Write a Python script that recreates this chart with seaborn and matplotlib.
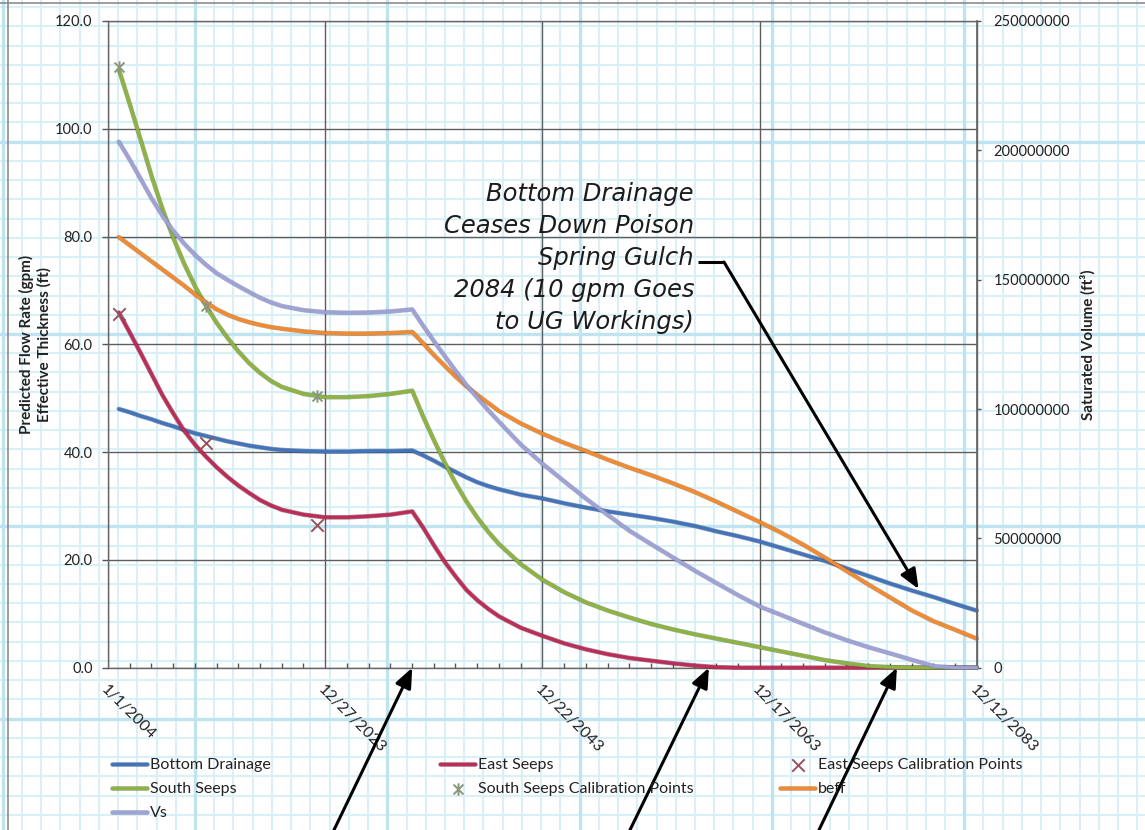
import numpy as np
import pandas as pd
import matplotlib
matplotlib.use("Agg")
import matplotlib.pyplot as plt
import matplotlib.dates as mdates
import matplotlib.patheffects as pe
from matplotlib.lines import Line2D
from matplotlib.path import Path
from matplotlib.ticker import FixedLocator, FuncFormatter
import seaborn as sns

# ---------------------------------------------------------------- data
SAMPLE_YEARS = [2005, 2006, 2007, 2008, 2009, 2010, 2011, 2012, 2013, 2014,
                2015, 2016, 2017, 2018, 2019, 2020, 2022, 2024, 2026, 2028,
                2030, 2032, 2033, 2034, 2035, 2036, 2037, 2038, 2039, 2040,
                2042, 2044, 2046, 2048, 2050, 2052, 2054, 2056, 2058, 2060,
                2062, 2064, 2066, 2068, 2070, 2072, 2074, 2076, 2078, 2080,
                2082, 2083.94]

BOTTOM_DRAINAGE = [48.0, 47.4, 46.7, 46.1, 45.4, 44.8, 44.1, 43.5, 43.0, 42.5,
                   42.0, 41.6, 41.2, 40.9, 40.6, 40.4, 40.2, 40.1, 40.1, 40.2,
                   40.2, 40.3, 39.4, 38.4, 37.3, 36.3, 35.3, 34.4, 33.7, 33.1,
                   32.1, 31.4, 30.5, 29.7, 29.0, 28.4, 27.8, 27.1, 26.3, 25.3,
                   24.4, 23.4, 22.2, 21.0, 19.8, 18.4, 17.0, 15.6, 14.3, 13.1,
                   11.8, 10.6]

EAST_SEEPS = [65.9, 62.2, 58.4, 54.5, 50.6, 47.2, 44.0, 41.4, 39.2, 37.2,
              35.4, 33.8, 32.4, 31.1, 30.1, 29.3, 28.4, 27.9, 27.9, 28.1,
              28.4, 29.0, 26.0, 22.7, 19.6, 16.9, 14.4, 12.5, 10.9, 9.5,
              7.4, 5.9, 4.5, 3.4, 2.5, 1.8, 1.3, 0.8, 0.4, 0.1,
              0.0, 0.0, 0.0, 0.0, 0.0, 0.0, 0.0, 0.0, 0.0, 0.0,
              0.0, 0.0]

SOUTH_SEEPS = [111.0, 104.6, 98.0, 91.3, 85.2, 79.8, 75.0, 70.8, 67.2, 64.0,
               61.2, 58.7, 56.5, 54.7, 53.2, 52.1, 50.8, 50.2, 50.2, 50.4,
               50.8, 51.4, 46.6, 42.2, 38.0, 34.2, 30.8, 27.8, 25.2, 22.9,
               19.2, 16.3, 14.0, 12.1, 10.6, 9.3, 8.1, 7.1, 6.2, 5.4,
               4.6, 3.8, 3.0, 2.2, 1.4, 0.8, 0.3, 0.1, 0.0, 0.0,
               0.0, 0.0]

BEFF = [79.9, 78.4, 76.9, 75.4, 73.9, 72.4, 70.9, 69.3, 67.8, 66.5,
        65.5, 64.7, 64.1, 63.6, 63.2, 62.9, 62.4, 62.1, 62.0, 62.0,
        62.1, 62.3, 60.2, 58.0, 56.0, 54.0, 52.2, 50.6, 49.1, 47.6,
        45.3, 43.4, 41.7, 40.2, 38.6, 37.1, 35.7, 34.2, 32.6, 30.8,
        28.9, 27.0, 25.0, 22.8, 20.4, 17.9, 15.4, 13.0, 10.6, 8.6,
        7.0, 5.4]

VS = [2.033e8, 1.964e8, 1.890e8, 1.815e8, 1.748e8, 1.689e8, 1.640e8, 1.596e8, 1.558e8, 1.525e8,
      1.499e8, 1.475e8, 1.452e8, 1.430e8, 1.412e8, 1.398e8, 1.382e8, 1.374e8, 1.372e8, 1.373e8,
      1.377e8, 1.385e8, 1.322e8, 1.262e8, 1.204e8, 1.147e8, 1.092e8, 1.043e8, 0.995e8, 0.950e8,
      0.862e8, 0.788e8, 0.720e8, 0.653e8, 0.590e8, 0.529e8, 0.477e8, 0.426e8, 0.375e8, 0.327e8,
      0.280e8, 0.236e8, 0.203e8, 0.169e8, 0.136e8, 0.106e8, 0.079e8, 0.055e8, 0.030e8, 0.006e8,
      0.0, 0.0]

CAL_YEARS = [2005.0, 2013.0, 2023.2]
EAST_CAL = [65.6, 41.7, 26.5]
SOUTH_CAL = [111.5, 67.2, 50.5]

X_TICK_LABELS = ["1/1/2004", "12/27/2023", "12/22/2043", "12/17/2063", "12/12/2083"]
LEFT_TICKS = [0, 20, 40, 60, 80, 100, 120]
RIGHT_TICKS = [0, 50000000, 100000000, 150000000, 200000000, 250000000]

NOTE = "Bottom Drainage\nCeases Down Poison\nSpring Gulch\n2084 (10 gpm Goes\nto UG Workings)"

# ---------------------------------------------------------------- helpers
W, H, DPI = 1145, 830, 100
ORIGIN = pd.Timestamp("2004-01-01")


def year_to_date(y):
    return ORIGIN + pd.to_timedelta((y - 2004) * 365.25, unit="D")


def fpx(x, y):
    """figure-fraction coordinates from pixel position (top-left origin)"""
    return x / W, 1 - y / H


sns.set_theme(style="white")
plt.rcParams["font.family"] = ["Lato", "DejaVu Sans"]

fig = plt.figure(figsize=(W / DPI, H / DPI), dpi=DPI, facecolor="white")

# ---------------------------------------------------------------- graph paper backdrop
bg = fig.add_axes([0, 0, 1, 1], zorder=-10)
bg.set_xlim(0, W)
bg.set_ylim(H, 0)
bg.axis("off")
cell = 19.23
for k in range(-12, 60):
    heavy = (k % 10 == 0)
    col = "#bfe4f0" if heavy else "#daf0f7"
    lw = 2.4 if heavy else 1.5
    x = 195 + k * cell
    if -5 <= x <= W + 5:
        bg.axvline(x, color=col, lw=lw, zorder=1 if heavy else 0)
    y = 141.7 + k * cell
    if -5 <= y <= H + 5:
        bg.axhline(y, color=col, lw=lw, zorder=1 if heavy else 0)
bg.axvline(8, color="#8c8c8c", lw=1.2, zorder=2)
bg.axhline(3, color="#8c8c8c", lw=1.2, zorder=2)

# ---------------------------------------------------------------- chart axes
L, R, T, B = 108, 976.7, 21, 667.7
ax = fig.add_axes([L / W, 1 - B / H, (R - L) / W, (B - T) / H])
ax.patch.set_alpha(0)
ax2 = ax.twinx()
ax2.patch.set_alpha(0)

df = pd.DataFrame({
    "date": [year_to_date(y) for y in SAMPLE_YEARS],
    "Bottom Drainage": BOTTOM_DRAINAGE,
    "East Seeps": EAST_SEEPS,
    "South Seeps": SOUTH_SEEPS,
    "beff": BEFF,
    "Vs": VS,
})
cal = pd.DataFrame({
    "date": [year_to_date(y) for y in CAL_YEARS],
    "East Seeps Calibration Points": EAST_CAL,
    "South Seeps Calibration Points": SOUTH_CAL,
})

COLORS = {
    "Bottom Drainage": ("#4373B9", "#27467a"),
    "East Seeps": ("#BC2C56", "#6e1430"),
    "South Seeps": ("#8DB443", "#4f6a1f"),
    "beff": ("#F28B30", "#9a4f12"),
    "Vs": ("#9FA2D5", "#676a98"),
}
LW = 2.3


def draw_series(axis, name):
    main, dark = COLORS[name]
    sns.lineplot(data=df, x="date", y=name, ax=axis, color=main, linewidth=LW,
                 label=name, legend=False, clip_on=False, zorder=3,
                 solid_joinstyle="round",
                 path_effects=[pe.Stroke(linewidth=LW + 1.0, foreground=dark, alpha=0.55),
                               pe.Normal()])


for name in ["Bottom Drainage", "East Seeps", "South Seeps", "beff"]:
    draw_series(ax, name)
draw_series(ax2, "Vs")

# calibration markers
star = Path([(-1, -1), (1, 1), (-1, 1), (1, -1), (0, -1.25), (0, 1.25)],
            [Path.MOVETO, Path.LINETO, Path.MOVETO, Path.LINETO, Path.MOVETO, Path.LINETO])
sns.scatterplot(data=cal, x="date", y="East Seeps Calibration Points", ax=ax,
                marker="x", s=80, color="#98505c", linewidth=1.4,
                label="East Seeps Calibration Points", legend=False, zorder=4, clip_on=False)
sns.scatterplot(data=cal, x="date", y="South Seeps Calibration Points", ax=ax,
                marker=star, s=80, color="#8a977a", edgecolor="#8a977a", linewidth=1.4,
                label="South Seeps Calibration Points", legend=False, zorder=4, clip_on=False)

# ---------------------------------------------------------------- scales / ticks
xticks = pd.to_datetime(X_TICK_LABELS, format="%m/%d/%Y")
ax.set_xlim(xticks[0], xticks[-1])
ax.set_ylim(LEFT_TICKS[0], LEFT_TICKS[-1])
ax2.set_ylim(RIGHT_TICKS[0], RIGHT_TICKS[-1])

ax.set_xticks(xticks)
ax.set_xticklabels(X_TICK_LABELS, rotation=-45, ha="left", va="top",
                   rotation_mode="anchor", fontsize=11.5, color="#222222")
minor = pd.date_range(xticks[0], xticks[-1], freq="730D")
ax.xaxis.set_minor_locator(FixedLocator(mdates.date2num(minor)))

ax.set_yticks(LEFT_TICKS)
ax.yaxis.set_major_formatter(FuncFormatter(lambda v, p: f"{v:.1f}"))
ax2.set_yticks(RIGHT_TICKS)
ax2.yaxis.set_major_formatter(FuncFormatter(lambda v, p: f"{v:.0f}"))

tick_col = "#555555"
ax.tick_params(axis="x", which="major", direction="out", length=4.5, width=1.0,
               color=tick_col, pad=6)
ax.tick_params(axis="x", which="minor", direction="in", length=3.5, width=1.0,
               color=tick_col, bottom=True)
ax.tick_params(axis="y", which="major", direction="out", length=4, width=1.0,
               color=tick_col, pad=7, labelsize=10.5, labelcolor="#222222", left=True)
ax2.tick_params(axis="y", which="major", direction="out", length=3, width=1.0,
                color=tick_col, pad=9, labelsize=10.5, labelcolor="#222222", right=True)

ax.set_axisbelow(True)
ax.grid(True, which="major", axis="both", color="#5e5e5e", linewidth=1.0)
ax2.grid(False)
for s in ax.spines.values():
    s.set_color("#666666")
    s.set_linewidth(1.0)
for side in ["left", "top", "bottom"]:
    ax2.spines[side].set_visible(False)
ax2.spines["right"].set_color("#666666")
ax2.spines["right"].set_linewidth(1.2)

ax.set_xlabel("")
ax.set_ylabel("Predicted Flow Rate (gpm)\nEffective Thickness (ft)",
              fontsize=11, fontweight="bold", color="#222222", linespacing=1.3)
ax.yaxis.set_label_coords((52 - L) / (R - L), 0.5)
ax2.set_ylabel("Saturated Volume (ft³)", fontsize=11, fontweight="bold", color="#222222")
ax2.yaxis.set_label_coords((1080 - L) / (R - L), 0.5)

# ---------------------------------------------------------------- annotation
fig.text(*fpx(694, 258), NOTE, ha="right", va="center", multialignment="right",
         fontsize=17.5, family="DejaVu Sans", style="oblique", color="#1c1c1c",
         linespacing=1.42)

arrow = dict(arrowstyle="-|>,head_length=0.6,head_width=0.25", color="black",
             lw=2.2, shrinkA=0, shrinkB=0, mutation_scale=20)


def point_at(year, value, tail_px):
    ax2.annotate("", xy=(mdates.date2num(year_to_date(year)), value),
                 xycoords=ax.transData, xytext=(tail_px[0], H - tail_px[1]),
                 textcoords="figure pixels", arrowprops=arrow, annotation_clip=False)


fig.add_artist(Line2D([698 / W, 724 / W], [1 - 262 / H] * 2, transform=fig.transFigure,
                      color="black", lw=2.2, solid_capstyle="butt"))
point_at(2078.6, 14.6, (724, 262))      # bottom drainage ceases
point_at(2032.0, 0.0, (333, 832))       # end of steady period
point_at(2059.3, 0.0, (629, 832))       # east seeps reach zero
point_at(2076.6, 0.0, (818, 832))       # south seeps reach zero

# ---------------------------------------------------------------- legend (three columns)
handles = {}
for a in (ax, ax2):
    for hnd, lab in zip(*a.get_legend_handles_labels()):
        handles[lab] = hnd


def legend_column(items, x_px):
    leg = fig.legend([handles[i] for i in items], items, loc="upper left",
                     bbox_to_anchor=fpx(x_px, 758), frameon=False, borderpad=0,
                     borderaxespad=0, handlelength=2.2, handletextpad=0.2,
                     labelspacing=0.62, fontsize=11.5, scatterpoints=1)
    for t in leg.get_texts():
        t.set_color("#222222")
    return leg


legend_column(["Bottom Drainage", "South Seeps", "Vs"], 112)
legend_column(["East Seeps", "South Seeps Calibration Points"], 440)
legend_column(["East Seeps Calibration Points", "beff"], 780)

fig.savefig("out.png", dpi=DPI, facecolor="white")
